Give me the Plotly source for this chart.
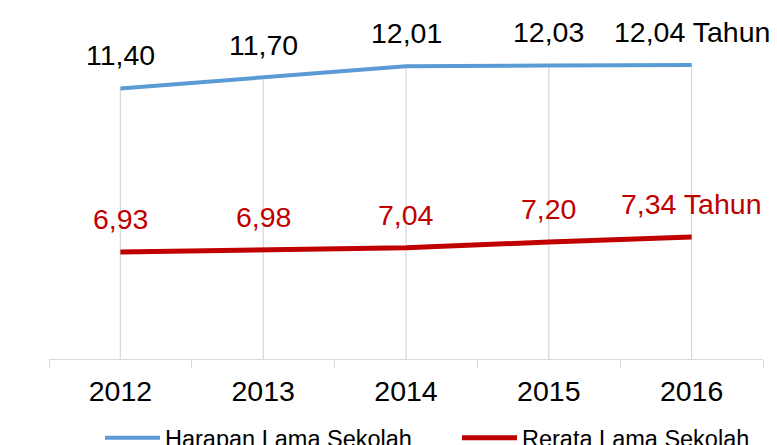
import plotly.graph_objects as go

years = ["2012", "2013", "2014", "2015", "2016"]
harapan = [11.40, 11.70, 12.01, 12.03, 12.04]
rerata = [6.93, 6.98, 7.04, 7.20, 7.34]
series_names = ["Harapan Lama Sekolah", "Rerata Lama Sekolah"]
unit = "Tahun"

BLUE = "#5B9BD5"
RED = "#C00000"
GRID = "#D9D9D9"
FONT = "Liberation Sans, Arial, sans-serif"
YMIN = 4.0
YMAX = 13.82


def fmt(v, last):
    s = f"{v:.2f}".replace(".", ",")
    return s + " " + unit if last else s


fig = go.Figure()

# drop lines from the upper series down to the category axis
fig.add_trace(go.Scatter(
    x=years, y=harapan, mode="markers",
    marker=dict(size=1, opacity=0),
    error_y=dict(type="data", symmetric=False,
                 array=[0] * len(harapan),
                 arrayminus=[v - YMIN for v in harapan],
                 color=GRID, thickness=1.3, width=0),
    showlegend=False, hoverinfo="skip"))

fig.add_trace(go.Scatter(x=years, y=harapan, mode="lines", name=series_names[0],
                         line=dict(color=BLUE, width=4), legend="legend"))
fig.add_trace(go.Scatter(x=years, y=rerata, mode="lines", name=series_names[1],
                         line=dict(color=RED, width=5), legend="legend2"))

annotations = []
for vals, col in ((harapan, "#000000"), (rerata, RED)):
    n = len(vals)
    for i, v in enumerate(vals):
        annotations.append(dict(
            x=i, y=v, xref="x", yref="y", text=fmt(v, i == n - 1),
            showarrow=False, yshift=33, yanchor="middle", xanchor="center",
            font=dict(family=FONT, size=28.5, color=col)))

legend_common = dict(orientation="h", xref="container", yref="container",
                     y=0.016, xanchor="left", yanchor="middle",
                     font=dict(family=FONT, size=23.5, color="#000000"),
                     itemwidth=55, bgcolor="rgba(0,0,0,0)")

fig.update_layout(
    width=777, height=445,
    margin=dict(l=48.5, r=13.5, t=0, b=86, autoexpand=False),
    paper_bgcolor="white", plot_bgcolor="white",
    font=dict(family=FONT, color="#000000"),
    annotations=annotations,
    showlegend=True,
    legend=dict(x=100 / 777, **legend_common),
    legend2=dict(x=457 / 777, **legend_common),
    xaxis=dict(type="category", range=[-0.5, 4.5], showgrid=False,
               showline=True, linecolor=GRID, linewidth=1.3,
               ticks="outside", tickson="boundaries", ticklen=8,
               tickcolor=GRID, tickwidth=1.3,
               tickfont=dict(family=FONT, size=28.5, color="#000000"),
               ticklabelstandoff=7, zeroline=False),
    yaxis=dict(range=[YMIN, YMAX], visible=False, showgrid=False, zeroline=False),
)

fig.write_html("out.html", config={"displayModeBar": False},
               post_script="document.body.style.margin='0';document.body.style.padding='0';")
